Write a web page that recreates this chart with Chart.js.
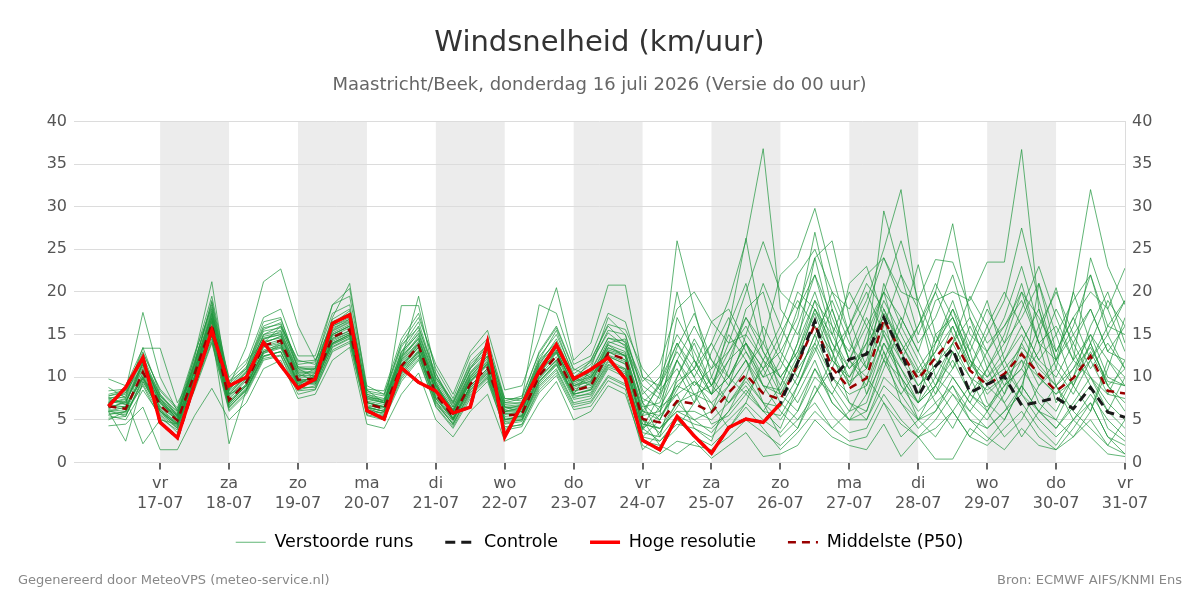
<!DOCTYPE html>
<html>
<head>
<meta charset="utf-8">
<script src="https://cdn.jsdelivr.net/npm/chart.js@4.4.1/dist/chart.umd.min.js"></script>
<style>
  html, body { margin: 0; padding: 0; background: #fff; }
  #wrap { position: relative; width: 1200px; height: 600px; font-family: "DejaVu Sans", sans-serif; }
  .foot { position: absolute; top: 572px; font-size: 13px; color: #888; }
  #footLeft { left: 18px; }
  #footRight { right: 18px; }
</style>
</head>
<body>
<div id="wrap">
  <canvas id="windChart" width="1200" height="600"></canvas>
  <div class="foot" id="footLeft">Gegenereerd door MeteoVPS (meteo-service.nl)</div>
  <div class="foot" id="footRight">Bron: ECMWF AIFS/KNMI Ens</div>
</div>
<script>
// tick labels, one per day from 17-07 (hours after 17-07 00:00 = 24 * index)
const dayNames = ["vr", "za", "zo", "ma", "di", "wo", "do", "vr", "za", "zo", "ma", "di", "wo", "do", "vr"];
const dayDates = ["17-07", "18-07", "19-07", "20-07", "21-07", "22-07", "23-07", "24-07", "25-07", "26-07", "27-07", "28-07", "29-07", "30-07", "31-07"];
const shadedDays = [0, 2, 4, 6, 8, 10, 12];

// model runs start 16-07 06:00, one value every 6 hours
const firstHour = -18;
const stepHours = 6;

const hogeResolutie = [6.6, 8.8, 12.3, 4.7, 2.9, 9.2, 15.5, 9.0, 10.0, 14.1,
  11.4, 8.7, 9.8, 16.3, 17.3, 6.1, 5.1, 11.1, 9.4, 8.4,
  5.8, 6.5, 14.1, 3.0, 6.8, 10.7, 13.8, 9.8, 10.9, 12.3,
  9.8, 2.6, 1.5, 5.4, 3.1, 1.1, 4.1, 5.1, 4.7, 6.9];

const controle = [6.6, 8.8, 12.3, 4.7, 2.9, 9.2, 15.5, 9.0, 10.0, 14.1,
  11.4, 8.7, 9.8, 16.3, 17.3, 6.1, 5.1, 11.1, 9.4, 8.4,
  5.8, 6.5, 14.1, 3.0, 6.8, 10.7, 13.8, 9.8, 10.9, 12.3,
  9.8, 2.6, 1.5, 5.4, 3.1, 1.1, 4.1, 5.1, 4.7, 6.9,
  11.7, 16.6, 9.8, 12.1, 12.7, 17.0, 12.9, 7.8, 11.3, 13.3,
  8.2, 9.2, 10.1, 6.7, 7.1, 7.6, 6.3, 8.8, 5.9, 5.3];

const mediaan = [6.6, 6.3, 10.6, 6.7, 4.9, 10.4, 16.2, 7.3, 9.4, 13.7,
  14.3, 9.7, 9.8, 14.7, 15.6, 6.9, 6.3, 11.3, 13.7, 8.0,
  5.4, 9.2, 11.1, 5.5, 5.7, 10.2, 12.5, 8.4, 9.0, 12.8,
  12.1, 5.1, 4.7, 7.2, 6.9, 5.9, 8.2, 10.3, 8.1, 7.4,
  11.5, 16.2, 11.1, 8.7, 9.9, 16.8, 12.9, 9.8, 12.3, 14.7,
  10.8, 9.1, 10.4, 12.7, 10.4, 8.4, 9.9, 12.5, 8.4, 8.1];

const runs = [
  [7.2, 7.8, 13.5, 8.0, 5.5, 12.0, 18.0, 8.5, 10.5, 15.0, 15.5, 10.8, 11.0, 16.0, 17.0, 7.5, 7.0, 12.5, 14.5, 9.0,
   6.0, 10.0, 12.5, 6.5, 6.0, 11.0, 14.0, 9.5, 12.0, 16.0, 14.0, 7.0, 9.0, 13.0, 10.0, 14.0, 19.0, 26.0, 36.8, 18.0,
   15.0, 20.0, 14.0, 11.0, 13.0, 19.0, 15.0, 11.0, 14.0, 17.0, 12.0, 10.0, 12.0, 15.0, 11.0, 9.0, 12.0, 15.0, 10.0, 9.0],
  [5.5, 5.0, 8.5, 5.5, 3.5, 8.5, 14.0, 6.0, 8.0, 12.0, 12.5, 8.0, 8.5, 13.0, 14.0, 5.5, 5.0, 9.5, 12.0, 6.5,
   4.0, 7.5, 9.5, 4.0, 4.5, 8.5, 10.5, 6.5, 7.0, 10.0, 9.0, 3.0, 2.5, 4.5, 4.0, 3.0, 5.0, 7.0, 5.0, 3.5,
   6.0, 11.0, 7.0, 5.0, 6.0, 12.0, 8.0, 5.0, 7.0, 9.0, 5.0, 4.0, 6.0, 8.0, 5.0, 3.0, 5.0, 7.0, 3.0, 2.0],
  [8.0, 8.5, 17.6, 10.0, 6.0, 11.5, 19.0, 9.5, 11.0, 16.5, 17.0, 11.0, 10.0, 15.5, 16.5, 8.0, 7.5, 13.0, 15.0, 10.0,
   7.0, 11.0, 13.0, 7.0, 7.5, 13.0, 16.0, 11.0, 10.0, 13.5, 12.5, 6.0, 5.0, 8.5, 12.0, 8.0, 10.0, 14.0, 11.0, 13.0,
   17.0, 27.0, 18.0, 12.0, 10.0, 15.0, 11.0, 7.0, 9.0, 13.0, 8.0, 6.0, 9.0, 11.0, 8.0, 6.0, 10.0, 14.0, 9.0, 11.0],
  [9.8, 9.0, 13.4, 13.4, 7.0, 10.5, 17.5, 10.0, 12.0, 14.0, 16.0, 12.0, 11.5, 18.5, 20.4, 9.0, 8.0, 14.0, 17.0, 11.5,
   8.0, 13.0, 15.5, 8.5, 9.0, 14.5, 20.5, 12.0, 14.0, 20.8, 20.8, 10.0, 8.0, 12.0, 9.0, 11.0, 13.0, 16.0, 12.0, 10.0,
   13.0, 19.0, 16.0, 13.0, 18.0, 24.0, 19.0, 14.0, 17.0, 22.0, 15.0, 13.0, 16.0, 19.0, 14.0, 12.0, 15.0, 18.0, 13.0, 12.0],
  [4.3, 4.5, 6.5, 1.5, 1.5, 5.5, 8.7, 5.0, 7.0, 11.0, 12.0, 7.5, 8.0, 12.0, 13.5, 4.5, 4.0, 8.0, 10.5, 5.0,
   3.0, 6.0, 8.0, 2.5, 3.5, 7.0, 9.5, 5.0, 6.0, 9.0, 8.0, 2.0, 1.0, 2.5, 2.0, 1.5, 3.0, 5.0, 3.5, 2.0,
   4.0, 9.0, 5.5, 3.5, 4.0, 8.0, 5.0, 3.0, 4.0, 6.0, 3.0, 2.0, 4.0, 6.0, 3.0, 1.5, 3.0, 5.0, 2.0, 1.0],
  [6.0, 2.5, 9.5, 6.0, 4.0, 9.5, 15.0, 2.2, 8.5, 12.5, 13.0, 9.0, 9.5, 14.0, 15.0, 6.5, 6.0, 10.5, 13.0, 7.5,
   5.0, 8.5, 10.5, 5.0, 5.0, 9.5, 11.5, 8.0, 8.5, 11.5, 11.0, 4.5, 4.0, 6.0, 6.0, 5.0, 7.0, 9.5, 7.0, 6.5,
   10.0, 15.0, 10.0, 8.0, 9.0, 15.5, 12.0, 9.0, 11.5, 14.0, 10.0, 8.5, 10.0, 12.0, 10.0, 8.0, 9.5, 12.0, 8.0, 7.5],
  [7.0, 7.5, 2.2, 5.0, 4.5, 10.0, 16.5, 8.0, 9.0, 13.0, 14.0, 9.5, 10.0, 15.0, 16.0, 7.0, 6.5, 11.0, 14.0, 8.5,
   6.0, 9.5, 11.5, 6.0, 6.5, 10.5, 13.0, 9.0, 9.5, 13.0, 12.5, 5.5, 6.0, 9.0, 8.0, 7.0, 9.0, 12.0, 9.0, 8.5,
   12.5, 17.5, 12.0, 9.5, 11.0, 17.5, 14.0, 10.5, 13.0, 16.0, 11.5, 9.5, 11.0, 13.5, 11.5, 9.0, 11.0, 13.5, 9.5, 9.0],
  [7.5, 8.0, 12.0, 7.5, 5.0, 11.0, 17.0, 9.0, 13.6, 21.2, 22.7, 16.0, 12.0, 15.0, 16.0, 7.0, 6.5, 12.0, 14.0, 9.0,
   5.5, 10.0, 12.0, 6.0, 6.0, 11.0, 13.0, 9.0, 10.0, 13.0, 12.0, 6.0, 9.0, 26.0, 18.0, 10.0, 7.0, 9.0, 6.0, 4.0,
   9.0, 14.0, 20.0, 15.0, 8.0, 12.0, 10.0, 7.0, 14.0, 19.0, 13.0, 7.0, 5.0, 9.0, 15.0, 20.5, 13.0, 9.0, 6.0, 10.0],
  [6.5, 7.0, 11.5, 7.0, 5.5, 12.5, 21.2, 8.0, 10.0, 14.5, 15.0, 10.0, 11.0, 17.0, 21.0, 8.5, 7.0, 12.0, 19.5, 10.5,
   6.5, 11.0, 14.0, 7.0, 7.0, 12.0, 15.5, 10.0, 9.0, 14.0, 14.5, 7.0, 3.0, 10.0, 14.5, 11.0, 16.0, 21.0, 13.0, 9.0,
   14.0, 24.0, 26.0, 17.0, 11.0, 16.0, 22.0, 18.0, 12.0, 10.0, 7.0, 11.0, 15.0, 21.0, 14.0, 7.0, 10.0, 16.0, 20.0, 14.0],
  [6.0, 6.5, 10.0, 6.5, 5.0, 9.5, 15.0, 7.0, 9.0, 13.5, 14.0, 9.0, 10.5, 14.0, 15.0, 6.5, 6.0, 18.4, 18.4, 9.5,
   5.0, 9.0, 11.0, 5.0, 5.5, 10.0, 12.0, 8.0, 8.5, 12.5, 11.5, 4.0, 2.5, 5.0, 3.0, 2.0, 4.0, 6.5, 4.0, 1.5,
   3.5, 6.0, 4.0, 2.5, 3.0, 7.0, 4.5, 3.0, 0.4, 0.4, 4.0, 2.5, 5.0, 9.0, 6.0, 4.0, 6.5, 9.0, 4.0, 2.5],
  [7.0, 7.2, 11.0, 7.2, 4.8, 10.8, 16.8, 7.8, 9.8, 14.0, 14.8, 10.2, 10.2, 15.2, 16.2, 7.2, 6.8, 11.8, 14.2, 8.5,
   5.8, 9.8, 11.8, 6.0, 6.2, 10.8, 13.2, 9.0, 9.8, 13.8, 13.0, 6.0, 5.5, 8.0, 9.5, 8.0, 12.0, 14.0, 10.0, 11.0,
   16.0, 22.0, 17.0, 12.0, 16.0, 20.0, 17.0, 13.0, 19.0, 20.0, 19.0, 23.5, 23.5, 36.7, 18.0, 12.0, 16.0, 22.0, 16.0, 15.0],
  [6.8, 6.5, 10.0, 6.0, 4.5, 10.0, 15.5, 7.0, 9.0, 13.0, 13.5, 9.5, 9.5, 14.5, 15.5, 6.5, 6.0, 11.0, 13.5, 7.5,
   5.0, 9.0, 11.0, 5.0, 5.5, 10.0, 12.0, 8.0, 11.0, 17.0, 15.0, 8.0, 10.0, 15.0, 12.0, 9.0, 13.0, 17.0, 14.0, 22.0,
   24.0, 29.8, 22.0, 15.0, 19.0, 25.0, 32.0, 18.0, 10.0, 8.0, 6.0, 9.0, 12.0, 16.0, 12.0, 10.0, 14.0, 18.0, 13.0, 16.0],
  [6.2, 6.0, 10.2, 6.2, 4.2, 9.8, 15.8, 6.8, 8.8, 13.2, 13.8, 9.2, 9.2, 14.2, 15.2, 6.2, 5.8, 10.8, 13.2, 7.6,
   5.2, 8.8, 10.6, 5.2, 5.2, 9.6, 11.6, 7.6, 8.2, 11.8, 10.8, 3.5, 3.0, 5.5, 4.5, 4.0, 6.0, 8.5, 6.0, 5.5,
   9.0, 13.5, 9.0, 6.0, 7.0, 13.0, 9.0, 7.0, 9.0, 12.0, 8.0, 6.5, 9.0, 13.0, 9.0, 12.0, 20.0, 32.0, 23.0, 18.5],
  [7.4, 7.0, 12.0, 8.0, 5.8, 11.2, 17.6, 8.2, 10.2, 15.0, 16.0, 11.0, 11.0, 16.5, 17.5, 7.8, 7.2, 12.8, 15.5, 9.5,
   6.5, 10.5, 12.5, 6.5, 6.5, 11.5, 14.5, 10.0, 11.5, 15.5, 15.0, 8.5, 6.0, 12.0, 16.0, 12.0, 10.0, 13.0, 9.0, 8.0,
   12.0, 18.0, 14.0, 10.0, 13.0, 29.5, 22.0, 15.0, 20.0, 28.0, 17.0, 11.0, 14.0, 20.0, 14.0, 16.0, 12.0, 10.0, 7.0, 5.0],
  [6.0, 5.8, 9.5, 6.0, 4.5, 9.0, 14.5, 6.5, 8.5, 12.5, 13.0, 8.5, 9.0, 13.5, 14.5, 6.0, 5.5, 10.0, 12.5, 7.0,
   4.5, 8.0, 10.0, 4.5, 4.8, 9.0, 11.0, 7.0, 7.5, 11.0, 10.0, 4.0, 8.0, 20.0, 12.0, 8.0, 16.0, 26.3, 15.0, 8.0,
   6.0, 10.0, 8.0, 5.0, 5.0, 9.0, 7.0, 5.0, 6.0, 9.0, 6.0, 4.0, 6.0, 9.0, 6.0, 4.0, 7.0, 10.0, 6.0, 4.0],
  [7.8, 8.2, 12.5, 7.8, 6.0, 11.8, 18.5, 9.2, 11.2, 16.0, 16.8, 11.5, 11.8, 17.5, 18.5, 8.2, 7.8, 13.5, 16.5, 10.0,
   7.2, 11.5, 13.5, 7.5, 7.2, 12.0, 14.0, 9.5, 10.0, 13.0, 12.0, 5.0, 4.0, 7.0, 8.0, 9.0, 14.0, 20.0, 25.9, 20.0,
   18.0, 24.0, 16.0, 9.0, 12.0, 18.0, 14.0, 10.0, 13.0, 18.0, 12.0, 8.0, 10.0, 14.0, 10.0, 8.0, 11.0, 15.0, 12.0, 10.0],
  [6.4, 6.6, 10.4, 6.4, 4.6, 10.0, 16.0, 7.4, 9.6, 13.8, 14.4, 9.8, 9.6, 14.6, 15.4, 6.8, 6.2, 11.2, 13.6, 8.2,
   5.6, 9.4, 11.4, 5.8, 5.8, 10.4, 12.8, 8.6, 9.2, 12.6, 11.8, 5.0, 2.0, 4.0, 7.0, 10.0, 15.0, 12.0, 7.0, 5.0,
   8.0, 12.0, 7.0, 5.0, 8.0, 14.0, 10.0, 5.0, 3.0, 6.0, 9.0, 13.0, 17.0, 23.0, 16.0, 9.0, 5.0, 3.0, 1.0, 0.7],
  [7.6, 7.6, 11.6, 7.6, 5.4, 11.6, 17.2, 8.6, 10.6, 14.8, 15.2, 10.6, 10.6, 15.8, 16.6, 7.6, 7.4, 12.2, 14.8, 9.2,
   6.2, 10.2, 12.2, 6.2, 6.8, 11.6, 13.8, 9.6, 10.6, 14.6, 14.2, 9.5, 11.5, 18.0, 20.0, 16.5, 14.0, 15.0, 12.0, 16.0,
   22.0, 25.0, 20.0, 18.0, 22.0, 24.0, 20.0, 19.0, 23.8, 23.5, 18.0, 14.0, 16.0, 20.0, 17.0, 13.0, 17.0, 20.0, 18.0, 22.8],
  [5.8, 5.6, 9.2, 5.6, 4.0, 9.2, 14.8, 6.6, 8.4, 12.4, 13.0, 8.8, 8.8, 13.6, 14.6, 5.8, 5.4, 10.2, 12.8, 6.8,
   4.6, 8.2, 10.0, 4.2, 4.4, 8.8, 10.8, 6.8, 7.2, 10.2, 9.2, 2.5, 2.0, 1.0, 2.5, 0.5, 2.0, 3.5, 0.7, 1.0,
   2.0, 5.0, 3.0, 2.0, 1.5, 4.5, 0.7, 3.0, 5.0, 8.0, 5.0, 3.0, 1.5, 4.0, 2.0, 1.5, 4.0, 7.0, 3.0, 1.0],
  [6.9, 7.4, 11.2, 7.0, 5.2, 10.8, 16.4, 7.6, 9.8, 14.2, 14.6, 10.0, 10.0, 15.0, 16.0, 7.0, 6.6, 11.6, 14.0, 8.4,
   5.6, 9.6, 11.6, 5.6, 6.0, 10.8, 13.2, 8.8, 9.6, 13.4, 12.8, 6.5, 7.0, 12.0, 8.0, 4.5, 5.5, 8.0, 6.0, 9.0,
   14.0, 19.0, 13.0, 7.0, 6.0, 11.0, 16.0, 23.2, 15.0, 11.0, 14.0, 19.0, 12.0, 8.0, 21.0, 15.0, 9.0, 6.0, 11.0, 17.0],
  [5.2, 5.4, 9.8, 6.0, 4.4, 9.6, 15.2, 6.4, 8.6, 12.8, 13.4, 9.0, 9.4, 13.8, 14.8, 6.0, 5.8, 10.6, 13.0, 7.2,
   4.8, 8.6, 10.4, 4.8, 5.0, 9.2, 11.4, 7.4, 7.8, 11.2, 10.4, 3.0, 5.0, 9.0, 11.0, 16.5, 18.0, 14.0, 9.0, 6.0,
   4.0, 8.0, 12.0, 21.0, 23.0, 17.0, 9.0, 6.0, 8.0, 13.0, 10.0, 6.0, 3.0, 5.0, 9.0, 11.0, 20.0, 14.0, 9.0, 6.0],
  [7.2, 6.8, 11.8, 7.4, 5.6, 11.0, 17.4, 8.4, 10.0, 14.6, 15.0, 10.4, 10.4, 15.4, 16.4, 7.4, 7.0, 12.0, 14.6, 8.8,
   6.0, 9.8, 11.8, 6.0, 6.4, 11.2, 13.6, 9.2, 10.2, 14.2, 13.4, 7.5, 6.5, 10.0, 14.0, 9.0, 7.0, 10.0, 16.0, 12.0,
   9.0, 13.0, 18.0, 12.0, 9.0, 14.0, 11.0, 8.0, 15.0, 17.0, 12.0, 9.0, 7.0, 10.0, 13.0, 18.0, 14.0, 10.0, 8.0, 12.0],
  [6.6, 6.2, 10.6, 6.6, 5.0, 10.6, 16.0, 7.2, 9.2, 13.6, 14.2, 9.6, 9.8, 14.8, 15.8, 6.6, 6.4, 11.4, 13.8, 8.0,
   5.2, 9.0, 11.0, 5.4, 5.6, 10.2, 12.4, 8.4, 8.8, 12.4, 11.6, 4.5, 4.0, 6.0, 5.0, 6.0, 9.0, 12.0, 8.0, 12.0,
   18.0, 22.0, 15.0, 11.0, 14.0, 20.0, 13.0, 9.0, 11.0, 16.0, 11.0, 15.0, 19.0, 27.5, 19.0, 12.0, 9.0, 13.0, 9.0, 7.0],
  [8.4, 8.6, 13.0, 8.4, 6.2, 12.4, 19.5, 9.6, 11.6, 17.0, 18.0, 12.5, 12.5, 18.5, 19.5, 8.6, 8.4, 14.5, 17.5, 11.0,
   7.5, 12.5, 14.5, 7.5, 7.5, 18.5, 17.5, 11.5, 12.5, 17.5, 16.5, 10.0, 9.0, 14.0, 11.0, 8.0, 10.0, 14.0, 11.0, 7.0,
   5.0, 8.0, 11.0, 16.0, 20.0, 15.0, 10.0, 7.0, 10.0, 14.0, 19.5, 16.0, 11.0, 8.0, 6.0, 5.0, 9.0, 14.0, 19.0, 16.0],
  [6.3, 7.2, 10.8, 6.9, 5.3, 10.2, 16.6, 7.0, 9.2, 14.0, 14.8, 10.4, 9.6, 14.4, 15.2, 7.1, 6.5, 11.5, 13.5, 8.6,
   5.2, 9.5, 11.6, 5.8, 5.3, 10.6, 12.9, 8.2, 9.4, 13.2, 12.6, 5.5, 9.5, 14.0, 10.0, 6.0, 11.0, 18.0, 20.0, 13.0,
   10.0, 15.0, 19.0, 14.0, 11.0, 21.0, 16.0, 12.0, 8.0, 11.0, 16.0, 12.0, 8.0, 14.0, 18.0, 11.0, 8.0, 12.0, 16.0, 19.0],
  [7.6, 6.8, 9.8, 5.8, 4.2, 10.8, 17.0, 6.8, 8.6, 12.8, 13.8, 9.2, 10.2, 13.9, 14.8, 6.4, 5.6, 10.4, 12.6, 7.2,
   4.4, 8.4, 10.2, 4.6, 5.0, 9.4, 11.8, 7.8, 8.0, 11.4, 10.6, 3.8, 6.5, 8.0, 4.0, 2.5, 8.0, 11.0, 14.0, 10.0,
   7.0, 11.0, 8.0, 12.0, 17.0, 13.0, 7.0, 4.0, 6.0, 10.0, 7.0, 5.0, 8.0, 12.0, 7.0, 5.0, 3.0, 6.0, 12.0, 9.0],
  [5.0, 6.0, 11.8, 7.8, 5.6, 11.6, 18.8, 8.8, 10.8, 15.6, 16.4, 11.2, 11.2, 16.8, 18.0, 8.0, 7.2, 13.0, 16.0, 9.8,
   6.8, 11.2, 13.2, 6.8, 7.0, 12.4, 15.0, 10.4, 11.8, 15.2, 13.6, 9.0, 7.5, 13.5, 17.5, 12.0, 9.0, 15.0, 21.0, 16.0,
   12.0, 16.0, 13.0, 16.0, 21.0, 18.0, 13.0, 16.0, 20.0, 15.0, 11.0, 16.0, 20.0, 16.0, 12.0, 15.0, 19.0, 22.0, 15.0, 11.0],
  [8.8, 7.6, 12.8, 8.6, 6.4, 12.8, 18.2, 9.0, 11.0, 15.8, 16.2, 11.8, 12.0, 16.2, 17.8, 8.4, 8.0, 13.8, 15.8, 10.4,
   7.0, 11.8, 13.8, 7.2, 7.8, 12.8, 15.8, 10.8, 12.0, 16.2, 15.6, 11.0, 8.5, 11.0, 7.0, 13.0, 17.0, 13.0, 10.0, 14.0,
   20.0, 18.0, 13.0, 9.0, 15.0, 20.0, 26.0, 19.0, 14.0, 18.0, 14.0, 10.0, 13.0, 18.0, 23.0, 17.0, 12.0, 24.0, 18.0, 13.0],
  [5.6, 6.0, 9.0, 5.2, 3.8, 8.8, 14.2, 6.2, 8.2, 12.2, 12.6, 8.4, 8.6, 13.2, 14.2, 5.6, 5.2, 9.8, 12.2, 6.6,
   4.2, 7.8, 9.8, 3.8, 4.2, 8.2, 10.2, 6.2, 6.6, 9.6, 8.6, 1.5, 3.5, 7.0, 5.0, 3.5, 6.0, 10.0, 7.0, 3.0,
   5.0, 7.0, 4.0, 6.0, 10.0, 7.0, 3.0, 5.0, 9.0, 6.0, 3.0, 6.0, 10.0, 7.0, 4.0, 2.0, 5.0, 8.0, 5.0, 3.0],
  [7.0, 8.2, 11.4, 7.4, 5.0, 10.2, 16.9, 8.0, 10.2, 14.4, 15.4, 10.6, 10.6, 16.0, 16.8, 7.6, 7.0, 12.4, 14.4, 9.0,
   6.0, 10.4, 12.4, 6.4, 6.6, 11.4, 13.4, 9.4, 10.4, 13.8, 12.4, 4.0, 5.5, 17.0, 13.0, 9.0, 12.0, 17.0, 13.0, 10.0,
   13.0, 18.0, 15.0, 20.0, 16.0, 12.0, 17.0, 13.0, 9.0, 14.0, 17.0, 13.0, 9.0, 11.0, 16.0, 20.0, 15.0, 11.0, 14.0, 11.0],
  [6.1, 5.4, 10.0, 6.2, 4.6, 10.0, 15.6, 7.0, 9.0, 13.0, 13.6, 9.4, 9.2, 14.0, 15.0, 6.4, 6.0, 11.0, 13.0, 7.8,
   5.0, 8.8, 10.8, 5.0, 5.4, 9.8, 12.0, 8.0, 8.6, 12.0, 11.0, 5.0, 3.5, 6.5, 9.5, 7.0, 4.0, 7.0, 12.0, 8.0,
   11.0, 14.0, 10.0, 7.0, 5.0, 10.0, 8.0, 11.0, 7.0, 4.0, 8.0, 11.0, 7.0, 3.0, 6.0, 9.0, 6.0, 4.0, 2.0, 5.0],
  [7.8, 8.4, 12.2, 7.2, 5.4, 11.4, 17.8, 8.6, 10.6, 15.4, 15.8, 11.2, 10.8, 15.6, 16.8, 7.8, 7.0, 12.6, 15.2, 9.2,
   6.2, 10.6, 12.8, 6.6, 6.8, 11.8, 14.2, 9.8, 10.8, 14.6, 13.8, 7.0, 5.0, 9.5, 11.0, 14.0, 10.0, 8.0, 11.0, 15.0,
   19.0, 16.0, 12.0, 10.0, 14.0, 17.0, 12.0, 16.0, 21.0, 17.0, 13.0, 18.0, 14.0, 17.0, 21.0, 13.0, 17.0, 12.0, 15.0, 19.0]
];

const runColor = "rgba(30, 150, 60, 0.7)";

function toPoints(values) {
  return values.map((v, i) => ({ x: firstHour + i * stepHours, y: v }));
}

const datasets = [
  { label: "Hoge resolutie", data: toPoints(hogeResolutie), borderColor: "#ff0000", borderWidth: 3.5, order: 0 },
  { label: "Controle", data: toPoints(controle), borderColor: "#1a1a1a", borderWidth: 3, borderDash: [9, 6], order: 1 },
  { label: "Middelste (P50)", data: toPoints(mediaan), borderColor: "#990000", borderWidth: 2.5, borderDash: [8, 6], order: 2 }
];
runs.forEach((r) => {
  datasets.push({ label: "Verstoorde runs", data: toPoints(r), borderColor: runColor, borderWidth: 1, order: 3 });
});

const legendItems = [
  { text: "Verstoorde runs", strokeStyle: runColor, lineWidth: 1, lineDash: [] },
  { text: "Controle", strokeStyle: "#1a1a1a", lineWidth: 3, lineDash: [10, 6] },
  { text: "Hoge resolutie", strokeStyle: "#ff0000", lineWidth: 3.5, lineDash: [] },
  { text: "Middelste (P50)", strokeStyle: "#990000", lineWidth: 2.5, lineDash: [8, 6] }
];

// grey shading on alternate days
const dayBands = {
  id: "dayBands",
  beforeDraw(chart) {
    const { ctx, chartArea, scales } = chart;
    ctx.save();
    ctx.fillStyle = "#ececec";
    shadedDays.forEach((d) => {
      const x0 = scales.x.getPixelForValue(d * 24);
      const x1 = scales.x.getPixelForValue((d + 1) * 24);
      ctx.fillRect(x0, chartArea.top, x1 - x0, chartArea.bottom - chartArea.top);
    });
    ctx.restore();
  }
};

// legend sits a bit closer to the date labels than its padding would allow
const liftLegend = {
  id: "liftLegend",
  afterLayout(chart) {
    chart.legend.top -= 16;
    chart.legend.bottom -= 16;
  }
};

Chart.defaults.font.family = "'DejaVu Sans', sans-serif";
Chart.defaults.color = "#555";

const yTicks = { stepSize: 5, font: { size: 16 }, color: "#555", padding: 7 };

new Chart(document.getElementById("windChart").getContext("2d"), {
  type: "line",
  data: { datasets },
  options: {
    responsive: false,
    animation: false,
    devicePixelRatio: 1,
    elements: { point: { radius: 0 }, line: { tension: 0, fill: false } },
    layout: { padding: { left: 34, right: 35, top: 0, bottom: 23 } },
    plugins: {
      title: {
        display: true,
        text: "Windsnelheid (km/uur)",
        font: { size: 29, weight: "normal" },
        color: "#333",
        padding: { top: 26, bottom: 6 }
      },
      subtitle: {
        display: true,
        text: "Maastricht/Beek, donderdag 16 juli 2026 (Versie do 00 uur)",
        font: { size: 18 },
        color: "#666",
        padding: { top: 8, bottom: 25 }
      },
      legend: {
        position: "bottom",
        labels: {
          color: "#111",
          font: { size: 17.5 },
          usePointStyle: true,
          pointStyleWidth: 30,
          padding: 32,
          generateLabels: () => legendItems.map((it) => ({
            text: it.text,
            strokeStyle: it.strokeStyle,
            fillStyle: it.strokeStyle,
            lineWidth: it.lineWidth,
            lineDash: it.lineDash,
            pointStyle: "line",
            hidden: false
          }))
        },
        onClick: () => {}
      },
      tooltip: { enabled: false }
    },
    scales: {
      x: {
        type: "linear",
        min: -30,
        max: 336,
        afterBuildTicks: (scale) => {
          scale.ticks = dayDates.map((_, k) => ({ value: k * 24 }));
        },
        ticks: {
          autoSkip: false,
          maxRotation: 0,
          padding: 4,
          font: { size: 16, lineHeight: 1.25 },
          color: "#555",
          callback: (value, index) => [dayNames[index], dayDates[index]]
        },
        grid: { drawOnChartArea: false, drawTicks: true, tickLength: 7, color: "#666", lineWidth: 2 },
        border: { display: false }
      },
      y: {
        position: "left",
        min: 0,
        max: 40,
        afterFit: (scale) => { scale.width = 40; },
        ticks: yTicks,
        grid: { color: "#dcdcdc", drawTicks: false },
        border: { display: false }
      },
      y2: {
        position: "right",
        min: 0,
        max: 40,
        afterFit: (scale) => { scale.width = 40; },
        ticks: yTicks,
        grid: { drawOnChartArea: false, drawTicks: false },
        border: { display: true, color: "#dcdcdc" }
      }
    }
  },
  plugins: [dayBands, liftLegend]
});
</script>
</body>
</html>
